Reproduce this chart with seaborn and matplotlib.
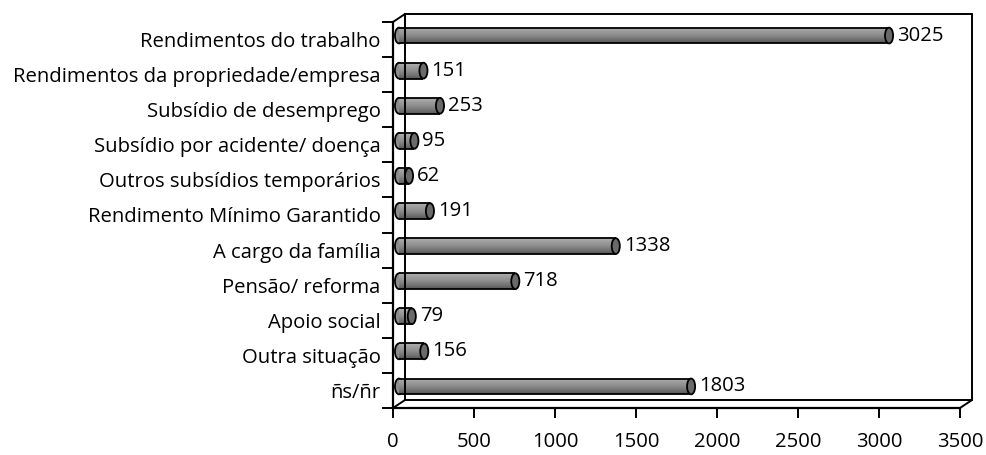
import numpy as np
import pandas as pd
import matplotlib
matplotlib.use("Agg")
import matplotlib.pyplot as plt
from matplotlib.lines import Line2D
from matplotlib.patches import Ellipse
import seaborn as sns

categories = ["Rendimentos do trabalho", "Rendimentos da propriedade/empresa",
              "Subsídio de desemprego", "Subsídio por acidente/ doença",
              "Outros subsídios temporários", "Rendimento Mínimo Garantido",
              "A cargo da família", "Pensão/ reforma", "Apoio social",
              "Outra situação", "ñs/ñr"]
values = [3025, 151, 253, 95, 62, 191, 1338, 718, 79, 156, 1803]
xticks = [0, 500, 1000, 1500, 2000, 2500, 3000, 3500]

df = pd.DataFrame({"cat": categories, "val": values})

sns.set_theme(style="white")
plt.rcParams["font.family"] = ["Open Sans", "DejaVu Sans"]
plt.rcParams["text.color"] = "black"
plt.rcParams["xtick.color"] = "black"
plt.rcParams["ytick.color"] = "black"

W, H = 987, 455
FS = 14.6
fig = plt.figure(figsize=(W / 100, H / 100), dpi=100)


def fr(x0, y0, x1, y1):
    # pixel box (top-left origin) -> figure fraction rect
    return [x0 / W, 1 - y1 / H, (x1 - x0) / W, (y1 - y0) / H]


# front frame: axis with ticks and labels
front = (393, 22, 960, 408)
dx, dy = 12, -8
ax_f = fig.add_axes(fr(*front))
ax_f.set_xlim(0, 3500)
ax_f.set_ylim(len(categories), 0)
ax_f.patch.set_alpha(0)
for s in ["top", "right"]:
    ax_f.spines[s].set_visible(False)
for s in ["left", "bottom"]:
    ax_f.spines[s].set_color("black")
    ax_f.spines[s].set_linewidth(1.6)
ax_f.set_xticks(xticks)
ax_f.set_xticklabels([str(t) for t in xticks], fontsize=FS)
ax_f.set_yticks(np.arange(len(categories) + 1), minor=False)
ax_f.set_yticklabels([])
ax_f.set_yticks(np.arange(len(categories)) + 0.5, minor=True)
ax_f.set_yticklabels(categories, minor=True, fontsize=FS)
ax_f.tick_params(axis="y", which="major", direction="out", length=8, width=1.4, color="black", left=True)
ax_f.tick_params(axis="y", which="minor", length=0, pad=9)
ax_f.tick_params(axis="x", direction="out", length=7, width=1.4, color="black", bottom=True, pad=10)

# bar axes shifted by half the depth
ax = fig.add_axes(fr(front[0] + dx / 2, front[1] + dy / 2, front[2] + dx / 2, front[3] + dy / 2))
ax.patch.set_alpha(0)
sns.barplot(data=df, x="val", y="cat", orient="h", width=0.45, color="#8a8a8a",
            edgecolor="none", linewidth=0, ax=ax)
ax.set_xlim(0, 3500)
ax.set_ylim(len(categories) - 0.5, -0.5)
ax.axis("off")

grad = np.linspace(0, 1, 64).reshape(-1, 1)
cmap = matplotlib.colors.LinearSegmentedColormap.from_list(
    "cyl", ["#b0b0b0", "#9c9c9c", "#8c8c8c", "#747474", "#575757"])
cap_w = 50
for p, v in zip(ax.patches, values):
    x0, y0 = p.get_x(), p.get_y()
    h = p.get_height()
    z = p.get_zorder()
    # rounded back end
    ax.add_patch(Ellipse((x0, y0 + h / 2), cap_w, h, facecolor="#8c8c8c",
                         edgecolor="black", linewidth=1.3, zorder=z - 0.5, clip_on=False))
    im = ax.imshow(grad, extent=[x0, x0 + v, y0 + h, y0], aspect="auto",
                   cmap=cmap, zorder=z + 0.1)
    im.set_clip_path(p)
    p.set_facecolor("none")
    ax.hlines([y0, y0 + h], x0, x0 + v, color="black", linewidth=1.3, zorder=z + 0.2)
    # front cap
    ax.add_patch(Ellipse((x0 + v, y0 + h / 2), cap_w, h, facecolor="#6a6a6a",
                         edgecolor="black", linewidth=1.3, zorder=z + 0.5))
    ax.text(x0 + v + 50, y0 + h / 2, str(v), va="center", ha="left", fontsize=FS,
            color="black")

# back wall and depth lines
def line(x0, y0, x1, y1, lw=1.4):
    fig.add_artist(Line2D([x0 / W, x1 / W], [1 - y0 / H, 1 - y1 / H],
                          color="black", linewidth=lw, zorder=10))

fx0, fy0, fx1, fy1 = front
bx0, by0, bx1, by1 = fx0 + dx, fy0 + dy, fx1 + dx, fy1 + dy
line(bx0, by0, bx1, by0)
line(bx1, by0, bx1, by1)
line(bx0, by0, bx0, by1)
line(bx0, by1, bx1, by1)
line(fx0, fy0, bx0, by0)
line(fx0, fy1, bx0, by1)
line(fx1, fy1, bx1, by1)

fig.savefig("out.png", dpi=100)
